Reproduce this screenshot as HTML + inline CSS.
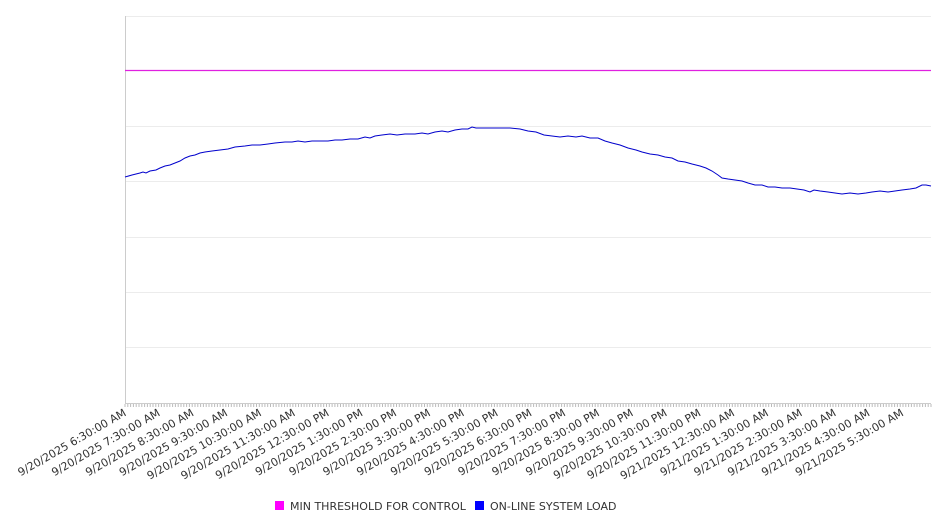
<!DOCTYPE html>
<html><head><meta charset="utf-8"><style>
body{margin:0;background:#fff;}
svg text{font-family:"DejaVu Sans","Liberation Sans",sans-serif;font-size:11px;fill:#333;}
</style></head><body>
<svg width="946" height="526" xmlns="http://www.w3.org/2000/svg">
<g stroke="#ececec" stroke-width="1">
<line x1="125" y1="16.5" x2="931" y2="16.5"/>
<line x1="125" y1="126.5" x2="931" y2="126.5"/>
<line x1="125" y1="181.5" x2="931" y2="181.5"/>
<line x1="125" y1="237.5" x2="931" y2="237.5"/>
<line x1="125" y1="292.5" x2="931" y2="292.5"/>
<line x1="125" y1="347.5" x2="931" y2="347.5"/>
</g>
<line x1="125.5" y1="16" x2="125.5" y2="404" stroke="#ccc"/>
<line x1="125" y1="403.5" x2="931" y2="403.5" stroke="#ccc"/>
<g id="ticks" stroke="#bbb"></g>
<line x1="125" y1="70.5" x2="931" y2="70.5" stroke="#e020e0" stroke-width="1.2"/>
<polyline fill="none" stroke="#0000cc" stroke-width="1" points="125,177 132,175 140,173 143,172 146,173 150,171 156,170 160,168 165,166 170,165 175,163 180,161 185,158 190,156 195,155 200,153 205,152 212,151 220,150 228,149 235,147 245,146 252,145 260,145 268,144 275,143 285,142 292,142 298,141 305,142 312,141 320,141 328,141 335,140 342,140 350,139 358,139 365,137 370,138 375,136 382,135 390,134 397,135 405,134 415,134 422,133 428,134 435,132 442,131 448,132 455,130 462,129 468,129 472,127 476,128 482,128 490,128 500,128 510,128 520,129 528,131 536,132 544,135 552,136 560,137 568,136 576,137 582,136 590,138 598,138 605,141 612,143 620,145 628,148 636,150 642,152 650,154 658,155 665,157 672,158 678,161 685,162 692,164 700,166 706,168 712,171 718,175 722,178 728,179 735,180 742,181 748,183 755,185 762,185 768,187 775,187 782,188 790,188 797,189 804,190 810,192 814,190 820,191 828,192 835,193 842,194 850,193 858,194 866,193 872,192 880,191 888,192 895,191 902,190 910,189 916,188 922,185 926,185 931,186"/>
<g id="labels"></g>
<rect x="275" y="501" width="9" height="9" fill="#ff00ff"/>
<text x="290" y="510">MIN THRESHOLD FOR CONTROL</text>
<rect x="475" y="501" width="9" height="9" fill="#0000ff"/>
<text x="490" y="510">ON-LINE SYSTEM LOAD</text>
</svg>
<script>
var ns="http://www.w3.org/2000/svg";
var t=document.getElementById("ticks");
for(var i=0;i<=288;i++){var x=125+i*806/288;var l=document.createElementNS(ns,"line");
l.setAttribute("x1",x.toFixed(1));l.setAttribute("x2",x.toFixed(1));l.setAttribute("y1",404);l.setAttribute("y2",407);t.appendChild(l);}
var lab=["9/20/2025 6:30:00 AM","9/20/2025 7:30:00 AM","9/20/2025 8:30:00 AM","9/20/2025 9:30:00 AM","9/20/2025 10:30:00 AM","9/20/2025 11:30:00 AM","9/20/2025 12:30:00 PM","9/20/2025 1:30:00 PM","9/20/2025 2:30:00 PM","9/20/2025 3:30:00 PM","9/20/2025 4:30:00 PM","9/20/2025 5:30:00 PM","9/20/2025 6:30:00 PM","9/20/2025 7:30:00 PM","9/20/2025 8:30:00 PM","9/20/2025 9:30:00 PM","9/20/2025 10:30:00 PM","9/20/2025 11:30:00 PM","9/21/2025 12:30:00 AM","9/21/2025 1:30:00 AM","9/21/2025 2:30:00 AM","9/21/2025 3:30:00 AM","9/21/2025 4:30:00 AM","9/21/2025 5:30:00 AM"];
var g=document.getElementById("labels");
lab.forEach(function(s,i){var x=125+i*33.8+2;var y=415;var e=document.createElementNS(ns,"text");
e.setAttribute("x",x);e.setAttribute("y",y);e.setAttribute("text-anchor","end");
e.setAttribute("transform","rotate(-30 "+x+" "+y+")");e.textContent=s;g.appendChild(e);});
</script>
</body></html>
